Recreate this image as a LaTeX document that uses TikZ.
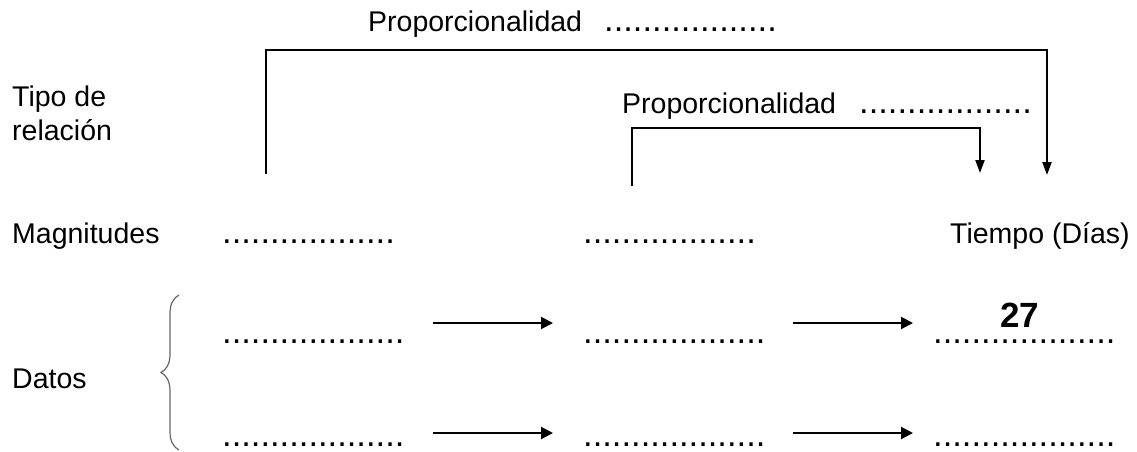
\documentclass[tikz,border=0pt]{standalone}
\usepackage{fontspec}
\setmainfont{Liberation Sans}
\usetikzlibrary{arrows.meta,decorations.pathreplacing}
\begin{document}
\begin{tikzpicture}[x=1pt,y=-1pt,
  lbl/.style={anchor=base west,inner sep=0pt,font=\fontsize{28.5}{32}\selectfont},
  dotsx/.style={anchor=base west,inner sep=0pt,font=\fontsize{34.5}{36}\selectfont},
  brk/.style={line width=2pt,-{Triangle[length=13pt,width=9pt]}},
  flow/.style={line width=2pt,-{Triangle[length=12pt,width=12pt]}},
  bracestyle/.style={draw=gray!80!black,line width=1.2pt,decorate,decoration={brace,amplitude=18pt}}]
\useasboundingbox (0,0) rectangle (1137,452);
% top labels
\node[lbl] (p1) at (368,32) {Proporcionalidad};
\node[dotsx] (d1) at (604,32) {..................};
\node[lbl] (p2) at (622,113) {Proporcionalidad};
\node[dotsx] (d2) at (859,113) {..................};
\node[lbl] (tipo) at (12,106) {Tipo de};
\node[lbl] (rel) at (12,140) {relación};
% magnitudes
\node[lbl] (mag) at (12,243) {Magnitudes};
\node[dotsx] (m1) at (222,243) {..................};
\node[dotsx] (m2) at (583,243) {..................};
\node[lbl] (m3) at (950,243) {Tiempo (Días)};
% datos
\node[lbl] (datos) at (12,388) {Datos};
\node[dotsx] (a1) at (222,343) {...................};
\node[dotsx] (a2) at (583,343) {...................};
\node[dotsx] (a3) at (933,343) {...................};
\node[lbl,font=\fontsize{35}{38}\selectfont\bfseries] (n27) at (1000,327) {27};
\node[dotsx] (b1) at (222,446) {...................};
\node[dotsx] (b2) at (583,446) {...................};
\node[dotsx] (b3) at (933,446) {...................};
% bracket coordinates
\coordinate (s1) at (266,174);
\coordinate (t1) at (1047,175);
\coordinate (s2) at (632,186);
\coordinate (t2) at (980,173);
\draw[brk] (s1) |- (1047,50) -- (t1);
\draw[brk] (s2) |- (980,128) -- (t2);
% flow arrows
\coordinate (r1a) at (433,323); \coordinate (r1b) at (553,323);
\coordinate (r1c) at (793,323); \coordinate (r1d) at (913,323);
\coordinate (r2a) at (433,433); \coordinate (r2b) at (553,433);
\coordinate (r2c) at (793,433); \coordinate (r2d) at (913,433);
\draw[flow] (r1a) -- (r1b);
\draw[flow] (r1c) -- (r1d);
\draw[flow] (r2a) -- (r2b);
\draw[flow] (r2c) -- (r2d);
% brace
\coordinate (br1) at (179,295);
\coordinate (br2) at (179,450);
\draw[bracestyle] (br2) -- (br1);
\end{tikzpicture}
\end{document}
